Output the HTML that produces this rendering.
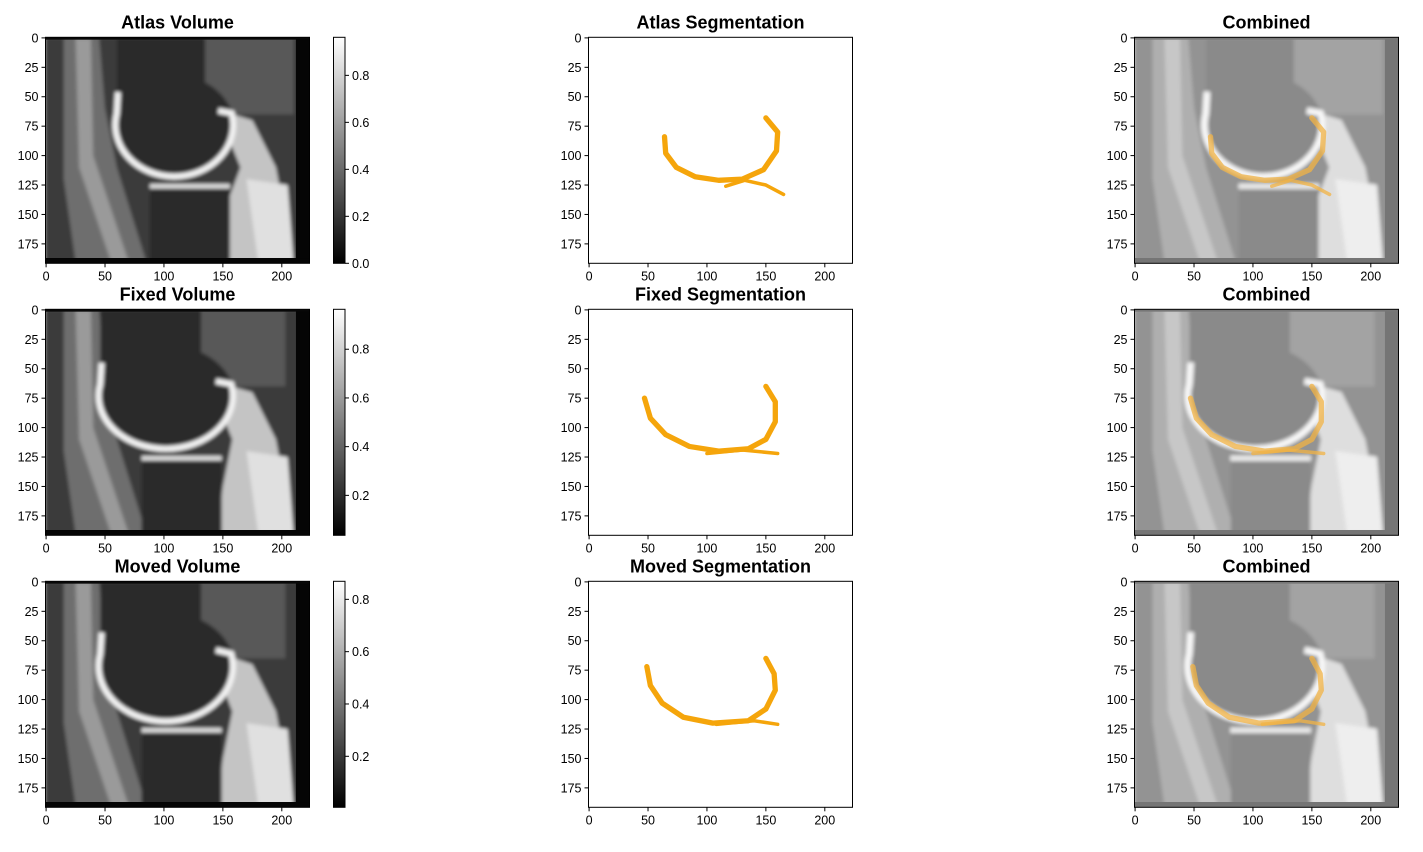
<!DOCTYPE html>
<html><head><meta charset="utf-8"><style>
body{margin:0;background:#fff;}
svg text{font-family:"Liberation Sans","DejaVu Sans",sans-serif;}
</style></head><body>
<svg id="fig" width="1423" height="847" xmlns="http://www.w3.org/2000/svg">
<defs>
<filter id="bl" x="-5%" y="-5%" width="110%" height="110%"><feGaussianBlur stdDeviation="1.6"/></filter>
<linearGradient id="cg" x1="0" y1="1" x2="0" y2="0"><stop offset="0" stop-color="#000"/><stop offset="1" stop-color="#fff"/></linearGradient>
</defs>
</svg>
<script>
const NS="http://www.w3.org/2000/svg";
const colLeft=[45.5,588.5,1134.5];
const rowTop=[37.3,309.3,581.3];
const AW=264, AH=226, IW=224, IH=192;
const xTicks=[0,50,100,150,200];
const yTicks=[0,25,50,75,100,125,150,175];
const volTitles=["Atlas Volume","Fixed Volume","Moved Volume"];
const segTitles=["Atlas Segmentation","Fixed Segmentation","Moved Segmentation"];
const cbMin=[0.0,0.036,0.005];
const cbMax=[0.962,0.964,0.869];
const cbTicks=[[0.0,0.2,0.4,0.6,0.8],[0.2,0.4,0.6,0.8],[0.2,0.4,0.6,0.8]];
// condyle center / radii in image units
const condyle=[[110,76,50,44],[103,75,57,45],[103,73,57,47]];
const segMain=[
 [[64,84],[65,98],[74,110],[90,118],[110,121],[130,120],[148,112],[159,96],[160,80],[150,68]],
 [[47,75],[52,92],[65,106],[85,116],[110,120],[135,118],[150,110],[158,95],[158,78],[150,65]],
 [[49,72],[52,88],[62,103],[80,115],[105,120],[135,118],[150,108],[158,92],[157,78],[150,65]]];
const segBranch=[
 [[116,126],[132,121],[150,125],[165,133]],
 [[100,122],[130,119],[160,122]],
 [[108,121],[140,118],[160,121]]];
const svg=document.getElementById('fig');
function el(tag,attrs,parent){const e=document.createElementNS(NS,tag);for(const k in attrs)e.setAttribute(k,attrs[k]);(parent||svg).appendChild(e);return e;}
function txt(s,attrs,parent){const t=el('text',attrs,parent);t.textContent=s;return t;}
function pts(a){return a.map(p=>p.join(',')).join(' ');}
function drawVolume(g,r){
 const [cx,cy,rx,ry]=condyle[r];
 const f=el('g',{filter:'url(#bl)'},g);
 el('rect',{x:-1,y:-1,width:226,height:194,fill:'#3a3a3a'},f);
 el('polygon',{points:'15,0 45,0 50,60 60,110 85,190 25,190 15,120',fill:'#6e6e6e'},f);
 el('polygon',{points:'25,0 38,0 40,100 70,190 55,190 28,110',fill:'#9a9a9a'},f);
 el('rect',{x:cx+10,y:0,width:90,height:65,fill:'#585858'},f);
 el('polygon',{points:(cx+35)+','+(cy-15)+' 175,70 195,110 210,190 145,190 150,150 '+(cx+55)+',110',fill:'#c4c4c4'},f);
 el('polygon',{points:'170,120 205,125 210,190 180,190',fill:'#e0e0e0'},f);
 el('rect',{x:cx-rx,y:0,width:rx*1.5,height:cy,fill:'#2c2c2c'},f);
 el('ellipse',{cx:cx,cy:cy,rx:rx,ry:ry,fill:'#2c2c2c'},f);
 el('path',{d:'M'+(cx-rx*0.98)+','+(cy-30)+' L'+(cx-rx)+','+(cy-12)+' A'+rx+','+ry+' 0 1 0 '+(cx+rx*0.95)+','+(cy-12)+' L'+(cx+rx*0.72)+','+(cy-ry*0.32),fill:'none',stroke:'#f2f2f2','stroke-width':5},f);
 el('rect',{x:cx-22,y:cy+ry+6,width:68,height:70,rx:8,fill:'#2a2a2a'},f);
 el('line',{x1:cx-22,y1:cy+ry+6,x2:cx+46,y2:cy+ry+6,stroke:'#dcdcdc','stroke-width':4},f);
 el('rect',{x:212,y:-1,width:13,height:194,fill:'#050505'},g);
 el('rect',{x:-1,y:187,width:226,height:6,fill:'#050505'},g);
 el('rect',{x:-1,y:-1,width:226,height:2.5,fill:'#080808'},g);
}
function drawSeg(g,r,op){
 const c=op<1?'#f2b344':'#f5a50b';
 el('polyline',{points:pts(segMain[r]),fill:'none',stroke:c,'stroke-width':4.5,'stroke-linejoin':'round','stroke-linecap':'round',opacity:op},g);
 el('polyline',{points:pts(segBranch[r]),fill:'none',stroke:c,'stroke-width':3,'stroke-linejoin':'round','stroke-linecap':'round',opacity:op},g);
}
function axes(r,c,title,kind){
 const L=colLeft[c],T=rowTop[r];
 const ax=el('g',{});
 
 
 const im=el('svg',{x:L,y:T,width:AW,height:AH,viewBox:'-0.5 -0.5 224 192',preserveAspectRatio:'none'},ax);
 
 
 if(kind==='volume')drawVolume(im,r);
 if(kind==='segmentation')drawSeg(im,r,1);
 if(kind==='combined'){drawVolume(im,r);el('rect',{x:-1,y:-1,width:226,height:194,fill:'#fff',opacity:0.45},im);drawSeg(im,r,0.75);}
 el('rect',{x:L,y:T,width:AW,height:AH,fill:'none',stroke:'#000','stroke-width':1},ax);
 const t=txt(title,{x:L+AW/2,y:T-9,'text-anchor':'middle','font-size':18,'font-weight':'bold'},ax);
 
 
 xTicks.forEach(v=>{const x=L+(v+0.5)*AW/IW;el('line',{x1:x,y1:T+AH,x2:x,y2:T+AH+4,stroke:'#000'},ax);
  const l=txt(String(v),{x:x,y:T+AH+17,'text-anchor':'middle','font-size':12.5},ax);
  
  });
 yTicks.forEach(v=>{const y=T+(v+0.5)*AH/IH;el('line',{x1:L-4,y1:y,x2:L,y2:y,stroke:'#000'},ax);
  const l=txt(String(v),{x:L-7,y:y+4.5,'text-anchor':'end','font-size':12.5},ax);
  
  });
}
function colorbar(r){
 const L=333.5,T=rowTop[r],W=11.5;
 const g=el('g',{});
 
 
 el('rect',{x:L,y:T,width:W,height:AH,fill:'url(#cg)',stroke:'#000','stroke-width':1},g);
 cbTicks[r].forEach(v=>{const y=T+AH-(v-cbMin[r])/(cbMax[r]-cbMin[r])*AH;
  el('line',{x1:L+W,y1:y,x2:L+W+4,y2:y,stroke:'#000'},g);
  const l=txt(v.toFixed(1),{x:L+W+7,y:y+4.5,'font-size':12.5},g);
  
  });
}
for(let r=0;r<3;r++){
 axes(r,0,volTitles[r],'volume');
 colorbar(r);
 axes(r,1,segTitles[r],'segmentation');
 axes(r,2,'Combined','combined');
}
</script>
</body></html>
